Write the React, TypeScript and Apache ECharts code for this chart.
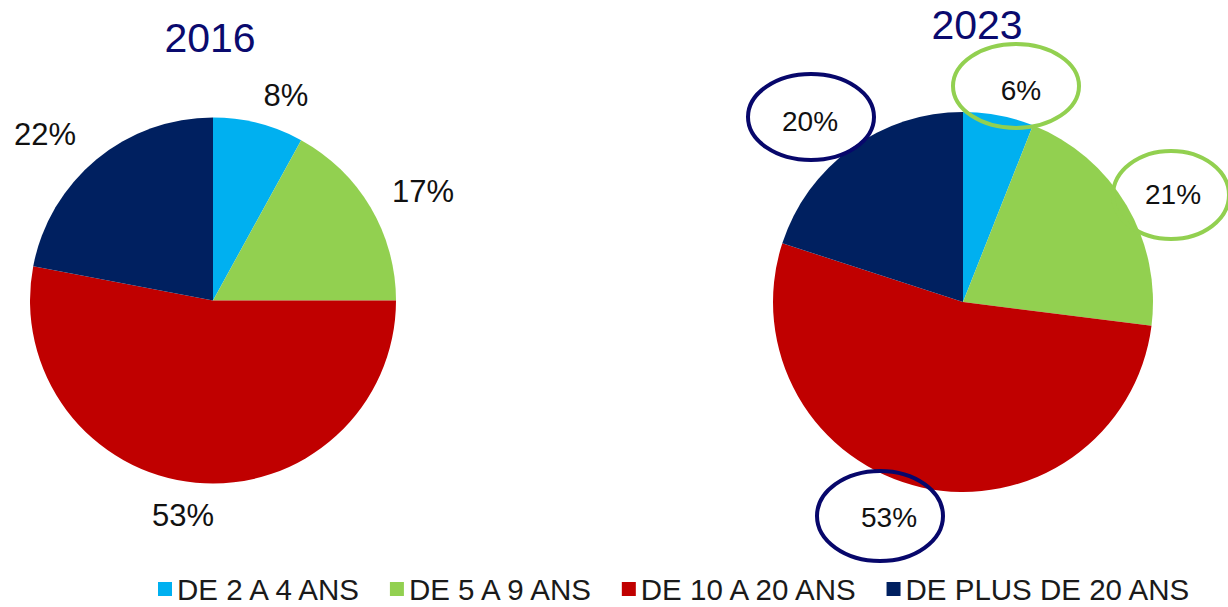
import React, { useEffect, useRef } from "react";
import * as echarts from "echarts";

// ---- data ----
const categories = ["DE 2 A 4 ANS", "DE 5 A 9 ANS", "DE 10 A 20 ANS", "DE PLUS DE 20 ANS"];
const years = ["2016", "2023"];
const values2016 = [8, 17, 53, 22];
const values2023 = [6, 21, 53, 20];

// ---- styles / layout ----
const colors = ["#00B0F0", "#92D050", "#C00000", "#002060"];
const FONT = "'Liberation Sans', Arial, Helvetica, sans-serif";
const TITLE_COLOR = "#0a0a6e";
const NAVY_RING = "#07076b";
const GREEN_RING = "#92D050";

// label centers (pixels) for each pie
const labelPos2016: [number, number][] = [
  [286, 95],
  [423, 191],
  [183, 515],
  [45, 134],
];
const labelPos2023: [number, number][] = [
  [1021, 90],
  [1173, 194],
  [889, 517],
  [810, 121],
];

export default function App() {
  const ref = useRef<HTMLDivElement>(null);

  useEffect(() => {
    if (!ref.current) return;
    const chart = echarts.init(ref.current, undefined, { renderer: "svg" });

    const mkData = (vals: number[]) =>
      vals.map((v, i) => ({ name: categories[i], value: v, itemStyle: { color: colors[i] } }));

    const mkLayout = (pos: [number, number][]) => (params: any) => {
      const p = pos[params.dataIndex];
      return { x: p[0], y: p[1], align: "center", verticalAlign: "middle", hideOverlap: false, moveOverlap: null };
    };

    const ellipse = (cx: number, cy: number, rx: number, ry: number, color: string) => ({
      type: "ellipse",
      shape: { cx, cy, rx, ry },
      style: { fill: "none", stroke: color, lineWidth: 4 },
      z: 100,
      silent: true,
    });

    const titleText = (text: string, x: number, y: number) => ({
      type: "text",
      x,
      y,
      style: {
        text,
        font: `41px ${FONT}`,
        fill: TITLE_COLOR,
        textAlign: "center",
        textVerticalAlign: "middle",
        align: "center",
        verticalAlign: "middle",
      },
      z: 100,
    });

    const labelCommon = {
      show: true,
      position: "outside",
      formatter: "{c}%",
      color: "#111111",
      fontFamily: FONT,
      overflow: "none",
      width: 200,
      bleedMargin: 0,
    };

    chart.setOption({
      animation: false,
      backgroundColor: "#ffffff",
      textStyle: { fontFamily: FONT },
      legend: {
        data: categories,
        left: 158,
        top: 574,
        padding: 0,
        icon: "rect",
        itemWidth: 14,
        itemHeight: 14,
        itemGap: 26,
        selectedMode: false,
        textStyle: { fontSize: 29.5, color: "#1a1a1a", fontFamily: FONT },
      },
      series: [
        {
          name: years[0],
          type: "pie",
          center: [213, 300.5],
          radius: 183,
          startAngle: 90,
          clockwise: true,
          data: mkData(values2016),
          itemStyle: { borderWidth: 0 },
          label: { ...labelCommon, fontSize: 31 },
          labelLine: { show: false },
          labelLayout: mkLayout(labelPos2016),
          emphasis: { disabled: true },
        },
        {
          name: years[1],
          type: "pie",
          center: [963, 302],
          radius: 190,
          startAngle: 90,
          clockwise: true,
          data: mkData(values2023),
          itemStyle: { borderWidth: 0 },
          label: { ...labelCommon, fontSize: 28 },
          labelLine: { show: false },
          labelLayout: mkLayout(labelPos2023),
          emphasis: { disabled: true },
        },
      ],
      graphic: [
        titleText(years[0], 210, 38),
        titleText(years[1], 977, 25),
        ellipse(1016, 86, 63, 42, GREEN_RING),
        ellipse(1171, 195, 58, 44, GREEN_RING),
        ellipse(811, 117, 63, 43, NAVY_RING),
        ellipse(880, 516, 63, 45, NAVY_RING),
      ],
    });

    return () => chart.dispose();
  }, []);

  return (
    <div
      ref={ref}
      style={{ position: "fixed", left: 0, top: 0, width: 1228, height: 607, background: "#fff" }}
    />
  );
}
